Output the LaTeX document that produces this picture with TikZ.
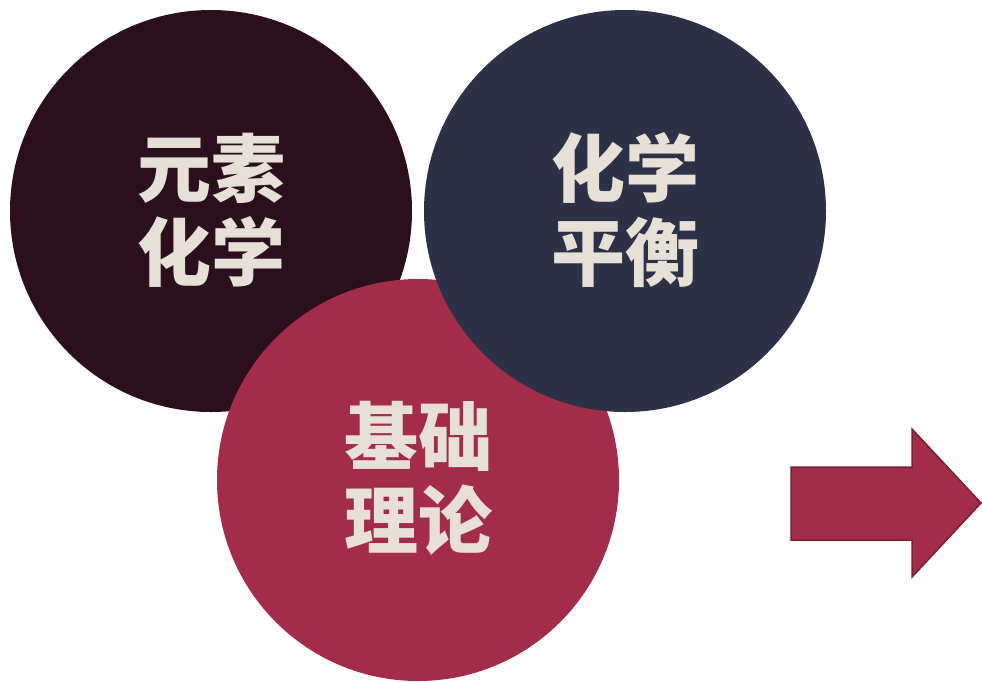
\documentclass[tikz,border=0pt]{standalone}
\usepackage{fontspec}
\newfontfamily\cjk{Noto Sans CJK SC}
\definecolor{cmaroon}{HTML}{2B0F1C}
\definecolor{cnavy}{HTML}{2C3148}
\definecolor{cred}{HTML}{A32C48}
\definecolor{cbeige}{HTML}{E6E0D6}
\definecolor{cborder}{HTML}{7A1F33}
\begin{document}
\begin{tikzpicture}[x=1pt,y=-1pt,
  disc/.style={circle,minimum size=402pt,inner sep=0pt,draw=none},
  label/.style={text=cbeige,align=center,font=\cjk\bfseries\fontsize{74}{84}\selectfont}]
\useasboundingbox (0,0) rectangle (982,681);
\fill[white] (0,0) rectangle (982,681);
\node[disc,fill=cmaroon] (c1) at (211,211) {};
\node[disc,fill=cred] (c3) at (418,480) {};
\node[disc,fill=cnavy] (c2) at (625,211) {};
\node[label] (t1) at (211,210) {元素\\化学};
\node[label] (t2) at (625,210) {化学\\平衡};
\node[label] (t3) at (418,478) {基础\\理论};
\draw[fill=cred,draw=cborder,line width=1.5pt,line join=miter]
  (791,467) -- (912,467) -- (912,429) -- (981,503) -- (912,577) -- (912,540) -- (791,540) -- cycle;
\end{tikzpicture}
\end{document}
